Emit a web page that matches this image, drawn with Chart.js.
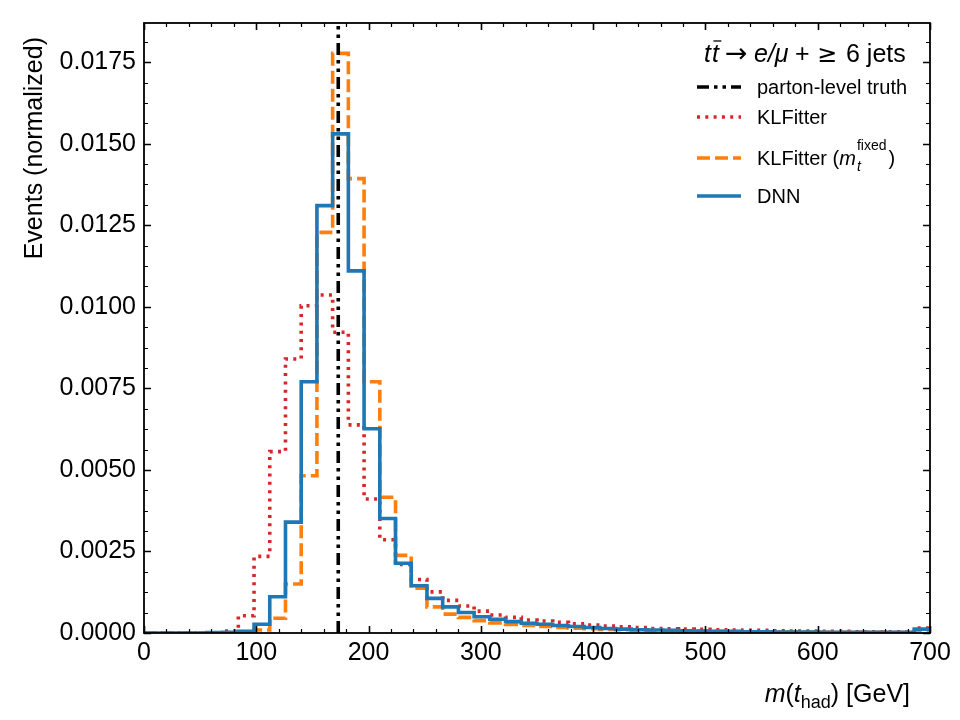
<!DOCTYPE html>
<html><head><meta charset="utf-8">
<script src="https://cdn.jsdelivr.net/npm/chart.js@4.4.0/dist/chart.umd.min.js"></script>
<style>html,body{margin:0;padding:0;background:#fff}canvas{display:block}</style>
</head><body>
<canvas id="c" width="960" height="720"></canvas>
<script>
// ---- data ----
const binWidth = 14;            // GeV, 50 bins from 0 to 700
const nBins = 50;
const dnn = [0,0,0,0,0.00001,0.00002,0.00005,0.00027,0.00111,0.0034,
  0.0077,0.0131,0.0153,0.0111,0.00626,0.00351,0.00214,0.00145,0.00106,0.0008,
  0.00063,0.0005,0.00042,0.00035,0.0003,0.00027,0.00023,0.0002,0.00017,0.00014,
  0.00012,0.0001,0.00009,0.00008,0.00007,0.00006,0.00005,0.00005,0.00004,0.00004,
  0.00003,0.00003,0.00003,0.00002,0.00002,0.00002,0.00002,0.00002,0.00002,0.00012];
const klfitter = [0,0,0,0,0,0.00006,0.00053,0.00235,0.00556,0.0084,
  0.01003,0.01036,0.00922,0.00638,0.00411,0.00286,0.0021,0.00164,0.00126,0.001,
  0.00083,0.00067,0.00055,0.00048,0.0004,0.00037,0.00033,0.00028,0.00024,0.00021,
  0.00019,0.00017,0.00014,0.00013,0.00012,0.00011,0.0001,0.00009,0.00008,0.00008,
  0.00007,0.00006,0.00006,0.00005,0.00005,0.00004,0.00004,0.00004,0.00003,0.00015];
const klfitterFixed = [0,0,0,0,0,0,0.00002,0.00009,0.00045,0.0015,
  0.00482,0.01228,0.01777,0.01393,0.0077,0.00416,0.00238,0.00137,0.0008,0.00058,
  0.00048,0.00038,0.00031,0.00026,0.00023,0.0002,0.00017,0.00015,0.00013,0.00011,
  0.0001,0.00009,0.00008,0.00007,0.00006,0.00005,0.00005,0.00004,0.00004,0.00003,
  0.00003,0.00003,0.00002,0.00002,0.00002,0.00002,0.00002,0.00001,0.00001,0.00008];
const truthMass = 173;
const xTicks = [0,100,200,300,400,500,600,700];
const yTicks = [0,0.0025,0.005,0.0075,0.01,0.0125,0.015,0.0175];
const xMin = 0, xMax = 700, yMin = 0, yMax = 0.0187;
const xMinorStep = 20, yMinorStep = 0.000625;
const labels = ['parton-level truth','KLFitter','KLFitter (m_t^fixed)','DNN'];

const FONT = "'Liberation Sans', Arial, Helvetica, sans-serif";
Chart.defaults.font.family = FONT;

function stepPoints(vals){
  const pts = vals.map((v,i)=>({x:i*binWidth, y:v}));
  pts.push({x:nBins*binWidth, y:vals[vals.length-1]});
  return pts;
}

const common = {pointRadius:0, fill:false, stepped:'before', borderWidth:3.6, borderCapStyle:'butt', borderJoinStyle:'miter', clip:0};

const datasets = [
  Object.assign({}, common, {label:labels[0], data:[{x:truthMass,y:yMin},{x:truthMass,y:yMax}], stepped:false,
    borderColor:'#000000', borderDash:[12,5,3.5,5,3.5,5]}),
  Object.assign({}, common, {label:labels[3], data:stepPoints(dnn), borderColor:'#1f77b4'}),
  Object.assign({}, common, {label:labels[2], data:stepPoints(klfitterFixed), borderColor:'#ff7f0e', borderDash:[13,5]}),
  Object.assign({}, common, {label:labels[1], data:stepPoints(klfitter), borderColor:'#d62728', borderDash:[3,5.3]})
];

const frameTicks = {
  id:'frameTicks',
  afterDraw(chart){
    const {ctx, chartArea:a, scales:{x,y}} = chart;
    ctx.save();
    ctx.setLineDash([]);
    ctx.strokeStyle = '#000';
    // ticks (inside, all four sides)
    const xt = (v,len,lw)=>{ const p = Math.round(x.getPixelForValue(v))+0.5; ctx.lineWidth=lw;
      ctx.beginPath(); ctx.moveTo(p,a.bottom); ctx.lineTo(p,a.bottom-len); ctx.moveTo(p,a.top); ctx.lineTo(p,a.top+len); ctx.stroke(); };
    const yt = (v,len,lw)=>{ const p = Math.round(y.getPixelForValue(v))+0.5; ctx.lineWidth=lw;
      ctx.beginPath(); ctx.moveTo(a.left,p); ctx.lineTo(a.left+len,p); ctx.moveTo(a.right,p); ctx.lineTo(a.right-len,p); ctx.stroke(); };
    for (let v = xMin; v <= xMax + 1e-9; v += xMinorStep) { if (!xTicks.includes(Math.round(v))) xt(v,4,1.2); }
    xTicks.forEach(v=>xt(v,7,1.6));
    for (let k = 0; k*yMinorStep <= yMax; k++) { const v = k*yMinorStep; if (k % 4 !== 0) yt(v,4,1.2); }
    yTicks.forEach(v=>yt(v,7,1.6));
    ctx.lineWidth = 1.8;
    ctx.strokeRect(a.left, a.top, a.right-a.left, a.bottom-a.top);

    ctx.fillStyle = '#000';
    // y axis title
    ctx.save();
    ctx.translate(42, 37);
    ctx.rotate(-Math.PI/2);
    ctx.font = `25px ${FONT}`;
    ctx.textAlign = 'right'; ctx.textBaseline = 'alphabetic';
    ctx.fillText('Events (normalized)', 0, 0);
    ctx.restore();

    // x axis title: m(t_had) [GeV], right aligned
    const fs = 25, fsub = 18, base = 702;
    const parts = [
      {t:'m', f:`italic ${fs}px ${FONT}`, dy:0},
      {t:'(', f:`${fs}px ${FONT}`, dy:0},
      {t:'t', f:`italic ${fs}px ${FONT}`, dy:0},
      {t:'had', f:`${fsub}px ${FONT}`, dy:6},
      {t:') [GeV]', f:`${fs}px ${FONT}`, dy:0}
    ];
    let tot = 0; parts.forEach(p=>{ctx.font=p.f; p.w=ctx.measureText(p.t).width; tot+=p.w;});
    let cx = 910 - tot;
    ctx.textAlign='left'; ctx.textBaseline='alphabetic';
    parts.forEach(p=>{ctx.font=p.f; ctx.fillText(p.t, cx, base+p.dy); cx+=p.w;});

    // legend title
    const tb = 62;
    ctx.font = `italic 25px ${FONT}`;
    ctx.fillText('t', 704, tb);
    const tw = ctx.measureText('t').width;
    ctx.fillText('t', 704+tw+1, tb);
    ctx.lineWidth = 1.3;
    ctx.beginPath(); ctx.moveTo(704+tw+2.5, tb-21); ctx.lineTo(704+2*tw+3.5, tb-21); ctx.stroke();
    ctx.font = `27px 'DejaVu Sans', ${FONT}`;
    ctx.fillText('\u2192', 725, tb);
    ctx.font = `italic 25px ${FONT}`;
    ctx.fillText('e/\u03bc', 754, tb);
    ctx.font = `25px ${FONT}`;
    ctx.fillText('+', 795, tb);
    ctx.font = `24px 'DejaVu Sans', ${FONT}`;
    ctx.fillText('\u2265', 817, tb);
    ctx.font = `25px ${FONT}`;
    ctx.fillText('6 jets', 846, tb);

    // legend entries
    const entries = [
      {ds:datasets[0], y:87, text:labels[0]},
      {ds:datasets[3], y:117, text:labels[1]},
      {ds:datasets[2], y:158, text:null},
      {ds:datasets[1], y:196, text:labels[3]}
    ];
    entries.forEach(e=>{
      ctx.strokeStyle = e.ds.borderColor; ctx.lineWidth = 3.6; ctx.lineCap='butt';
      ctx.setLineDash(e.ds.borderDash || []);
      ctx.beginPath(); ctx.moveTo(697, e.y); ctx.lineTo(741, e.y); ctx.stroke();
      ctx.setLineDash([]);
      ctx.fillStyle = '#000'; ctx.textBaseline='middle'; ctx.textAlign='left';
      ctx.font = `20px ${FONT}`;
      if (e.text) { ctx.fillText(e.text, 757, e.y+1); }
      else {
        let px = 757;
        ctx.fillText('KLFitter (', px, e.y+1); px += ctx.measureText('KLFitter (').width;
        ctx.font = `italic 20px ${FONT}`; ctx.fillText('m', px, e.y+1); px += ctx.measureText('m').width;
        ctx.font = `italic 14px ${FONT}`; ctx.fillText('t', px+1, e.y+9);
        ctx.font = `14px ${FONT}`; ctx.fillText('fixed', px+1, e.y-12); px += ctx.measureText('fixed').width + 3;
        ctx.font = `20px ${FONT}`; ctx.fillText(')', px, e.y+1);
      }
    });
    ctx.restore();
  }
};

new Chart(document.getElementById('c'), {
  type:'line',
  data:{datasets},
  options:{
    responsive:false, animation:false, devicePixelRatio:1,
    layout:{padding:{left:0,right:30,top:20,bottom:0}},
    plugins:{legend:{display:false}, tooltip:{enabled:false}},
    scales:{
      x:{type:'linear', min:xMin, max:xMax,
        afterBuildTicks:s=>{s.ticks = xTicks.map(v=>({value:v}));},
        afterFit:s=>{s.height = 87;},
        grid:{display:false, drawTicks:false}, border:{display:false},
        ticks:{font:{size:25}, color:'#000', padding:5, maxRotation:0, autoSkip:false}},
      y:{type:'linear', min:yMin, max:yMax,
        afterBuildTicks:s=>{s.ticks = yTicks.map(v=>({value:v}));},
        afterFit:s=>{s.width = 144;},
        grid:{display:false, drawTicks:false}, border:{display:false},
        ticks:{font:{size:25}, color:'#000', padding:8, autoSkip:false, callback:v=>Number(v).toFixed(4)}}
    }
  },
  plugins:[frameTicks]
});
</script>
</body></html>
